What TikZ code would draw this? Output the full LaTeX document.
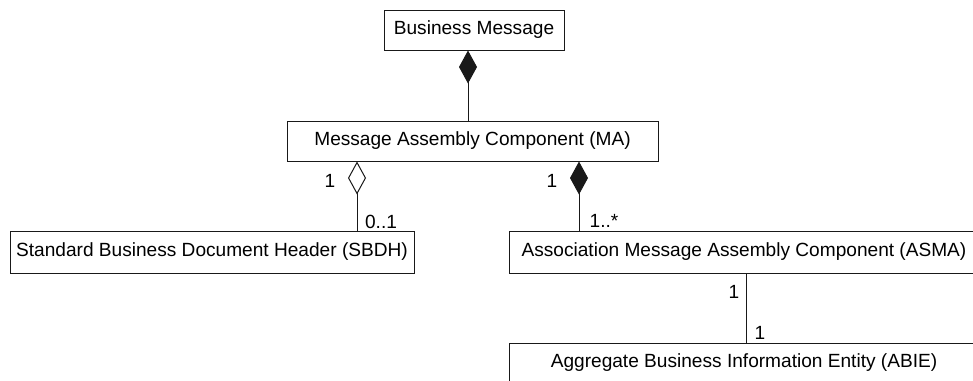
\documentclass[tikz,border=0pt]{standalone}
\usepackage{fontspec}
\setmainfont{Liberation Sans}
\usetikzlibrary{arrows.meta}
\begin{document}
\begin{tikzpicture}[x=1pt,y=-1pt,
  font=\fontsize{19.1}{23}\selectfont,
  box/.style={draw=black!90, line width=1pt, rectangle, inner sep=0pt, fill=white},
  conn/.style={draw=black!90, line width=1pt},
  comp/.style={conn, -{Diamond[length=33pt,width=18pt]}},
  aggr/.style={conn, -{Diamond[open,length=33pt,width=18pt,fill=white]}},
  lbl/.style={inner sep=0pt, anchor=center}]
\useasboundingbox (0,0) rectangle (973,380);
\clip (0,0) rectangle (973,380);
\node[box, minimum width=180pt, minimum height=40pt] (bm) at (474,30) {Business Message};
\node[box, minimum width=371pt, minimum height=40pt] (ma) at (472.5,141) {Message Assembly Component (MA)};
\node[box, minimum width=404pt, minimum height=42pt] (sbdh) at (212,252) {Standard Business Document Header (SBDH)};
\node[box, minimum width=470pt, minimum height=42pt] (asma) at (744,252) {Association Message Assembly Component (ASMA)};
\node[box, minimum width=470pt, minimum height=40pt] (abie) at (744,363) {Aggregate Business Information Entity (ABIE)};
\draw[comp] ([xshift=-4.5pt]ma.north) -- ([xshift=-6pt]bm.south);
\draw[aggr] ([xshift=145pt]sbdh.north) -- ([xshift=145pt]sbdh.north |- ma.south);
\draw[comp] ([xshift=-165pt]asma.north) -- ([xshift=-165pt]asma.north |- ma.south);
\draw[conn] ([xshift=2pt]asma.south) -- ([xshift=2pt]abie.north);
\node[lbl] (l1) at (330,181) {1};
\node[lbl] (l2) at (381,222) {0..1};
\node[lbl] (l3) at (552,181) {1};
\node[lbl] (l4) at (604,221) {1..*};
\node[lbl] (l5) at (734,292) {1};
\node[lbl] (l6) at (760,333) {1};
\end{tikzpicture}
\end{document}
